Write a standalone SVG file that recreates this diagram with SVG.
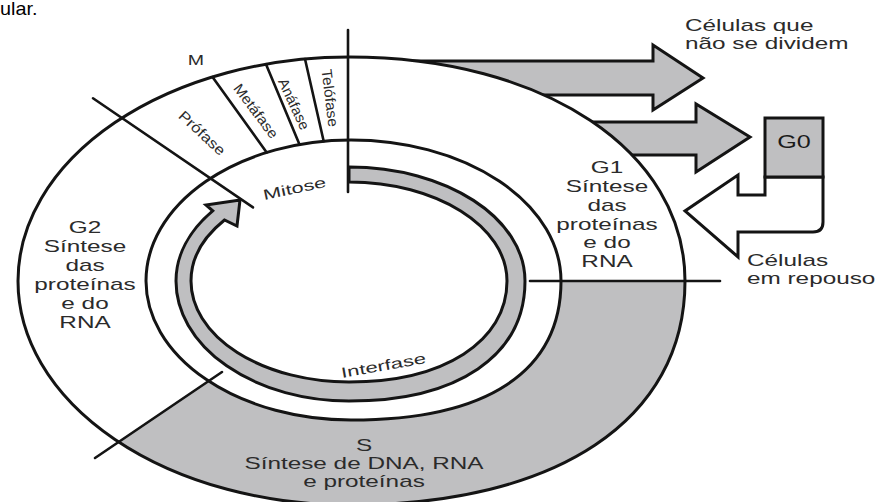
<svg xmlns="http://www.w3.org/2000/svg" width="876" height="502" viewBox="0 0 876 502">
<style>
.ln{fill:none;stroke:#141414;stroke-width:3;stroke-linejoin:round;stroke-linecap:round}
.dv{fill:none;stroke:#141414;stroke-width:2.6;stroke-linecap:round}
.gr{fill:#bfbfc1;stroke:none}
.ar{fill:#bfbfc1;stroke:#141414;stroke-width:3;stroke-linejoin:miter}
.wa{fill:#ffffff;stroke:#141414;stroke-width:3;stroke-linejoin:miter}
.t{font-family:"Liberation Sans",Arial,sans-serif;font-size:16px;fill:#2b2b2b}
.ts{font-family:"Liberation Sans",Arial,sans-serif;font-size:14.5px;fill:#2b2b2b}
</style>
<rect x="0" y="0" width="876" height="502" fill="#ffffff"/>
<g transform="translate(0,15) scale(1.1,1)"><text x="0" y="0" style="font-family:'Liberation Sans',Arial,sans-serif;font-size:18px;fill:#000">ular.</text></g>

<g id="connectors">
  <path id="arrow-nondividing" class="ar" d="M400 61 L653 61 L653 45 L703 78 L653 110 L653 95 L400 95 Z"/>
  <path id="arrow-to-G0" class="ar" d="M560 122 L696 122 L696 104 L750 137 L696 172 L696 155 L560 155 Z"/>
  <path id="arrow-return" class="wa" d="M765 177 L765 195 L738 195 L738 175 L685 211 L738 257 L738 232 L813 232 Q823 232 823 222 L823 177 Z"/>
</g>

<g id="cycle">
  <path d="M349 57 C543.9 57 685 151.1 685 281 C685 419.9 557.3 505 349 505 A331 224 0 0 1 18 281 A331 224 0 0 1 349 57 Z" fill="#ffffff" stroke="none"/>
  <path id="region-S" class="gr" d="M685 281 C685 419.9 557.3 505 349 505 A331 224 0 0 1 119 442 L208.6 381 A205 139 0 0 0 351 420 C487.5 420 561 371.4 561 281 Z"/>
  <path class="ln" d="M349 57 C543.9 57 685 151.1 685 281 C685 419.9 557.3 505 349 505 A331 224 0 0 1 18 281 A331 224 0 0 1 349 57 Z"/>
  <path class="ln" d="M351 140 A210 141 0 0 1 561 281 C561 371.4 487.5 420 351 420 A205 139 0 0 1 146 281 A205 141 0 0 1 351 140 Z"/>
</g>

<g id="interfase-arrow">
  <path class="ar" stroke-width="2.6" d="M349 167 C446.2 167 525 218 525 281 C525 355.4 458.1 401 349 401 A173 120 0 0 1 176 281 A173 114 0 0 1 212.7 210.8 L206 205 L240 200 L237 226 L224.5 220 A158 99 0 0 0 191 281 A158 101 0 0 0 349 382 C443.8 382 507 341.6 507 281 C507 226.3 436.3 182 349 182 Z"/>
  <text class="ts" font-size="15" transform="translate(294.5,188.5) rotate(-12)" y="5" text-anchor="middle" textLength="64" lengthAdjust="spacingAndGlyphs">Mitose</text>
  <text class="ts" font-size="15" transform="translate(383.5,365.5) rotate(-10)" y="5" text-anchor="middle" textLength="86" lengthAdjust="spacingAndGlyphs">Interfase</text>
</g>

<g id="boundaries">
  <line class="dv" x1="348" y1="30" x2="348" y2="192"/>
  <line class="dv" x1="93" y1="98.3" x2="253" y2="207.4"/>
  <line class="dv" x1="95" y1="458" x2="222" y2="372"/>
  <line class="dv" x1="530" y1="281" x2="720" y2="281"/>
</g>

<g id="phase-M">
  <line class="dv" x1="212.5" y1="77" x2="266.7" y2="152.5"/>
  <line class="dv" x1="266" y1="64.2" x2="299.5" y2="144.5"/>
  <line class="dv" x1="305" y1="59" x2="323.7" y2="141.3"/>
  <g transform="translate(196,65) scale(1.35,1)"><text class="ts" x="0" y="0" text-anchor="middle">M</text></g>
  <text class="ts" transform="translate(202,133) rotate(43)" y="5" text-anchor="middle" textLength="58" lengthAdjust="spacingAndGlyphs">Prófase</text>
  <text class="ts" transform="translate(256,111) rotate(53)" y="5" text-anchor="middle" textLength="64" lengthAdjust="spacingAndGlyphs">Metáfase</text>
  <text class="ts" transform="translate(294,104) rotate(65)" y="5" text-anchor="middle" textLength="55" lengthAdjust="spacingAndGlyphs">Anáfase</text>
  <text class="ts" transform="translate(330,98) rotate(83)" y="5" text-anchor="middle" textLength="58" lengthAdjust="spacingAndGlyphs">Telófase</text>
</g>

<g id="phase-G1">
  <g transform="translate(607,0) scale(1.52,1)">
    <text class="t" text-anchor="middle"><tspan x="0" y="173">G1</tspan><tspan x="0" y="192">Síntese</tspan><tspan x="0" y="211">das</tspan><tspan x="0" y="230">proteínas</tspan><tspan x="0" y="248">e do</tspan><tspan x="0" y="267">RNA</tspan></text>
  </g>
</g>

<g id="phase-G2">
  <g transform="translate(85,0) scale(1.52,1)">
    <text class="t" text-anchor="middle"><tspan x="0" y="233">G2</tspan><tspan x="0" y="252">Síntese</tspan><tspan x="0" y="271">das</tspan><tspan x="0" y="290">proteínas</tspan><tspan x="0" y="309">e do</tspan><tspan x="0" y="328">RNA</tspan></text>
  </g>
</g>

<g id="phase-S">
  <g transform="translate(364,0) scale(1.52,1)">
    <text class="t" text-anchor="middle"><tspan x="0" y="451">S</tspan><tspan x="0" y="469">Síntese de DNA, RNA</tspan><tspan x="0" y="487">e proteínas</tspan></text>
  </g>
</g>

<g id="G0">
  <rect x="765" y="118" width="58" height="59" class="ar"/>
  <g transform="translate(794,148) scale(1.4,1)"><text x="0" y="0" text-anchor="middle" style="font-family:'Liberation Sans',Arial,sans-serif;font-size:18px;fill:#1a1a1a">G0</text></g>
</g>

<g id="label-nondividing">
  <g transform="translate(685,0) scale(1.52,1)">
    <text class="t"><tspan x="0" y="31">Células que</tspan><tspan x="0" y="49">não se dividem</tspan></text>
  </g>
</g>

<g id="label-resting">
  <g transform="translate(747,0) scale(1.52,1)">
    <text class="t"><tspan x="0" y="266">Células</tspan><tspan x="0" y="284">em repouso</tspan></text>
  </g>
</g>
</svg>
